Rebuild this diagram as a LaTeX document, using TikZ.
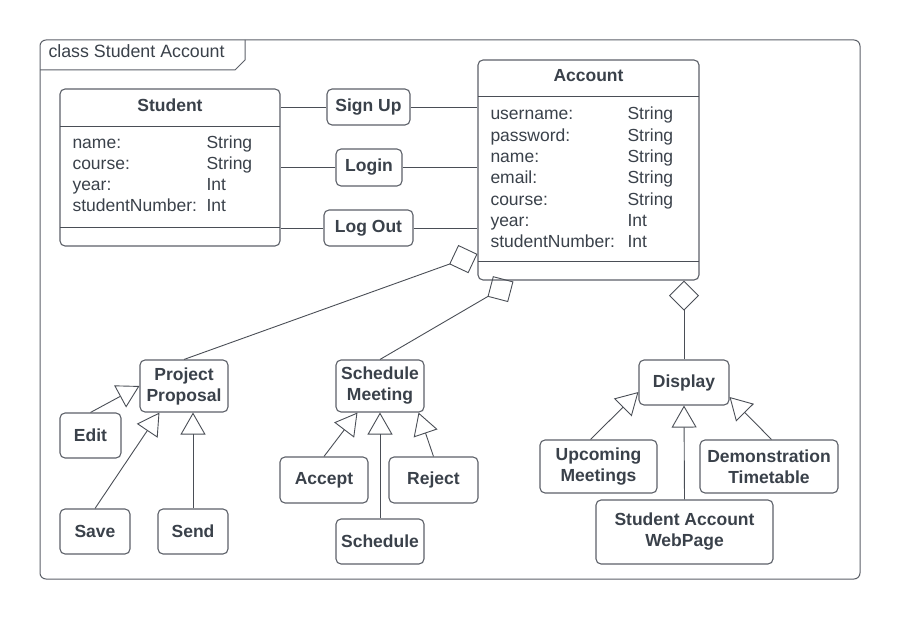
\documentclass[tikz,border=0pt]{standalone}
\usepackage{fontspec}
\setmainfont{Liberation Sans}
\usetikzlibrary{arrows.meta,calc}
\definecolor{linecol}{HTML}{4A4E56}
\definecolor{boxcol}{HTML}{5C6068}
\definecolor{textcol}{HTML}{3A414A}
\begin{document}
\begin{tikzpicture}[x=1pt,y=-1pt,line width=1pt,draw=linecol,
  every node/.style={font=\fontsize{17.5}{21}\selectfont,text=textcol,inner sep=0pt},
  box/.style={draw=boxcol,line width=1.1pt,rounded corners=5pt,align=center,font=\fontsize{17.5}{21}\selectfont\bfseries},
  gen/.style={line width=0.9pt,-{Triangle[open,length=22pt,width=25pt]}},
  agg/.style={line width=0.9pt,-{Diamond[open,length=30pt,width=30pt]}}]
\useasboundingbox (0,0) rectangle (900,620);

\draw[draw=boxcol,rounded corners=6pt] (40,40) rectangle (860,579);
\draw[draw=boxcol] (40,70) -- (235,70) -- (245,60) -- (245,40);
\node[anchor=base west,font=\fontsize{17.8}{21}\selectfont] (frametitle) at (48,58) {class Student Account};

% classes
\node[box,minimum width=220pt,minimum height=157pt] (stu) at (170,167.5) {};
\draw (60,127) -- (280,127);
\draw (60,228) -- (280,228);
\node[font=\fontsize{17.5}{21}\selectfont\bfseries,anchor=base] (stutitle) at (170,112) {Student};
\foreach \attr/\type [count=\i] in {name:/String,course:/String,year:/Int,studentNumber:/Int}{
  \node[anchor=base west] (sa\i) at (72,128+21*\i) {\attr};
  \node[anchor=base west] (st\i) at (206,128+21*\i) {\type};
}

\node[box,minimum width=221pt,minimum height=220pt] (acc) at (588.5,170) {};
\draw (478,97) -- (699,97);
\draw (478,262) -- (699,262);
\node[font=\fontsize{17.5}{21}\selectfont\bfseries,anchor=base] (acctitle) at (588.5,82) {Account};
\foreach \attr/\type [count=\i] in {username:/String,password:/String,name:/String,email:/String,course:/String,year:/Int,studentNumber:/Int}{
  \node[anchor=base west] (aa\i) at (490,98.7+21.3*\i) {\attr};
  \node[anchor=base west] (at\i) at (627,98.7+21.3*\i) {\type};
}

% actions
\node[box,minimum width=83pt,minimum height=36pt] (signup) at (368.5,107) {Sign Up};
\node[box,minimum width=66pt,minimum height=37pt] (login) at (369,167.5) {Login};
\node[box,minimum width=89pt,minimum height=36pt] (logout) at (368.5,228) {Log Out};
\foreach \b in {signup,login,logout}{
  \draw[line width=0.9pt] (\b.west) -- (stu.east |- \b.west);
  \draw[line width=0.9pt] (\b.east) -- (acc.west |- \b.east);
}

\node[box,minimum width=88pt,minimum height=52pt] (pp) at (184,386) {Project\\Proposal};
\node[box,minimum width=61pt,minimum height=45pt] (edit) at (90.5,435.5) {Edit};
\node[box,minimum width=70pt,minimum height=45pt] (save) at (95,531.5) {Save};
\node[box,minimum width=70pt,minimum height=45pt] (send) at (193,531.5) {Send};

\node[box,minimum width=88pt,minimum height=52pt] (sm) at (380,386) {Schedule\\Meeting};
\node[box,minimum width=88pt,minimum height=46pt] (accept) at (324,480) {Accept};
\node[box,minimum width=89pt,minimum height=46pt] (reject) at (433.5,480) {Reject};
\node[box,minimum width=88pt,minimum height=45pt] (sched) at (380,541.5) {Schedule};

\node[box,minimum width=90pt,minimum height=45pt] (disp) at (684,382.5) {Display};
\node[box,minimum width=117pt,minimum height=53pt] (upc) at (598.5,466.5) {Upcoming\\Meetings};
\node[box,minimum width=138pt,minimum height=53pt] (demo) at (769,466.5) {Demonstration\\Timetable};
\node[box,minimum width=177pt,minimum height=64pt] (web) at (684.5,532) {Student Account\\WebPage};

% aggregation
\draw[agg] (pp.north) -- ($(acc.north west)!0.88!(acc.south west)$);
\draw[agg] (sm.north) -- ($(acc.south west)+(36,1)$);
\draw[agg] (disp.north) -- (disp.north |- acc.south);

% generalisation
\draw[gen] (edit.north) -- (pp.west);
\draw[gen] (save.north) -- ($(pp.south west)+(20,0)$);
\draw[gen] (send.north) -- (send.north |- pp.south);
\draw[gen] (accept.north) -- ($(sm.south west)+(22,0)$);
\draw[gen] (sched.north) -- (sm.south);
\draw[gen] (reject.north) -- ($(sm.south east)+(-6,0)$);
\draw[gen] ($(upc.north west)+(51,0)$) -- ($(disp.west)+(0,9.5)$);
\draw[gen] (web.north) -- (disp.south);
\draw[gen] ($(demo.north west)+(72,0)$) -- ($(disp.east)+(0,14.5)$);
\end{tikzpicture}
\end{document}
